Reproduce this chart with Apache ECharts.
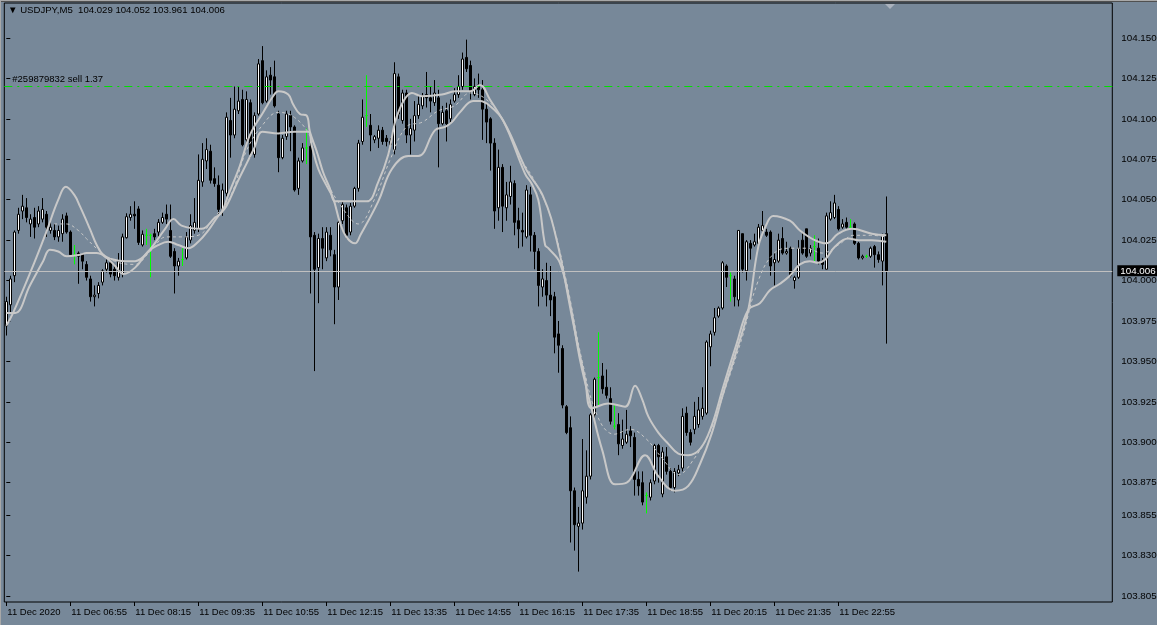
<!DOCTYPE html>
<html><head><meta charset="utf-8">
<script src="https://cdn.jsdelivr.net/npm/echarts@6/dist/echarts.min.js"></script>
<style>html,body{margin:0;padding:0;background:#778899;}#c{width:1157px;height:625px;}</style>
</head><body><div id="c"></div>
<script>
// ---- DATA ----
const symbolTitle = '\u25BC USDJPY,M5  104.029 104.052 103.961 104.006';
const orderText = '#259879832 sell 1.37';
const orderPrice = 104.120;
const bidPrice = 104.006;
const yTickValues = [104.150,104.125,104.100,104.075,104.050,104.025,104.000,103.975,103.950,103.925,103.900,103.875,103.855,103.830,103.805];
const timeTickLabels = ['11 Dec 2020','11 Dec 06:55','11 Dec 08:15','11 Dec 09:35','11 Dec 10:55','11 Dec 12:15','11 Dec 13:35','11 Dec 14:55','11 Dec 16:15','11 Dec 17:35','11 Dec 18:55','11 Dec 20:15','11 Dec 21:35','11 Dec 22:55'];
const barsPerTick = 16;
const totalSlots = 277;

const open = [103.972,103.985,104.003,104.031,104.043,104.045,104.035,104.039,104.035,104.038,104.041,104.031,104.031,104.027,104.029,104.040,104.030,104.016,104.017,104.016,
104.010,104.001,103.990,103.992,103.999,104.007,104.011,104.007,104.002,104.004,104.0265,104.039,104.041,104.0443,104.022,104.028,104.028,104.029,104.030,104.036,
104.041,104.031,104.018,104.009,104.013,104.014,104.025,104.031,104.032,104.061,104.074,104.080,104.063,104.059,104.044,104.054,104.099,104.090,104.105,104.112,
104.087,104.110,104.078,104.103,104.136,104.111,104.127,104.126,104.103,104.076,104.089,104.102,104.095,104.057,104.074,104.082,104.083,104.028,104.008,104.026,
104.014,104.028,104.016,103.996,104.037,104.045,104.030,104.046,104.057,104.086,104.102,104.096,104.087,104.088,104.093,104.088,104.086,104.081,104.126,104.099,
104.116,104.090,104.093,104.102,104.108,104.115,104.113,104.110,104.113,104.097,104.105,104.100,104.111,104.115,104.120,104.138,104.133,104.115,104.121,104.118,
104.106,104.100,104.085,104.045,104.070,104.045,104.052,104.060,104.037,104.031,104.027,104.053,104.028,104.018,103.996,104.000,103.991,103.990,103.967,103.958,
103.922,103.909,103.870,103.848,103.850,103.866,103.879,103.917,103.940,103.941,103.934,103.927,103.910,103.911,103.898,103.900,103.907,103.903,103.877,103.875,
103.867,103.866,103.876,103.898,103.868,103.891,103.882,103.872,103.881,103.884,103.918,103.906,103.908,103.911,103.916,103.918,103.959,103.968,103.978,103.983,
104.009,104.003,104.001,103.988,104.029,104.006,104.023,104.022,104.023,104.031,104.030,104.030,104.011,104.012,104.026,104.017,104.020,104.000,104.002,104.025,
104.032,104.017,104.021,104.020,104.012,104.007,104.038,104.039,104.044,104.033,104.036,104.033,104.035,104.023,104.014,104.015,104.015,104.021,104.016,104.012,
104.029];
const close = [103.987,104.001,104.030,104.041,104.046,104.039,104.038,104.033,104.043,104.044,104.033,104.033,104.027,104.031,104.038,104.030,104.016,104.016,104.015,104.012,
104.002,103.990,103.991,103.997,104.006,104.011,104.004,104.003,104.012,104.027,104.0395,104.041,104.040,104.0236,104.0286,104.028,104.028,104.027,104.036,104.039,
104.038,104.015,104.009,104.012,104.013,104.027,104.034,104.036,104.062,104.075,104.081,104.062,104.060,104.044,104.056,104.101,104.090,104.106,104.111,104.084,
104.112,104.078,104.102,104.134,104.110,104.126,104.124,104.108,104.076,104.088,104.103,104.095,104.056,104.074,104.082,104.082,104.027,104.007,104.026,104.020,
104.030,104.019,103.996,104.036,104.047,104.028,104.046,104.057,104.085,104.101,104.102,104.090,104.089,104.093,104.086,104.086,104.084,104.128,104.103,104.116,
104.090,104.094,104.102,104.109,104.114,104.113,104.111,104.116,104.097,104.104,104.097,104.109,104.115,104.120,104.137,104.131,104.117,104.120,104.118,104.106,
104.098,104.085,104.043,104.070,104.046,104.053,104.061,104.036,104.032,104.030,104.056,104.028,104.018,103.997,104.001,103.991,103.988,103.965,103.960,103.923,
103.906,103.870,103.849,103.850,103.870,103.879,103.917,103.939,103.940,103.933,103.929,103.913,103.910,103.899,103.902,103.905,103.904,103.877,103.873,103.863,
103.867,103.875,103.898,103.891,103.894,103.882,103.872,103.882,103.883,103.916,103.906,103.900,103.916,103.920,103.921,103.962,103.967,103.977,103.983,104.011,
104.002,104.003,103.990,104.031,104.007,104.024,104.020,104.024,104.033,104.034,104.028,104.009,104.013,104.025,104.017,104.018,104.003,104.002,104.020,104.017,
104.015,104.020,104.021,104.012,104.010,104.040,104.042,104.048,104.032,104.035,104.033,104.033,104.023,104.014,104.015,104.015,104.020,104.016,104.013,104.028,
104.006];
const low = [103.966,103.980,103.999,104.029,104.038,104.036,104.027,104.026,104.033,104.036,104.027,104.029,104.025,104.024,104.024,104.029,104.015,104.010,103.998,104.007,
104.000,103.987,103.984,103.989,103.997,104.005,104.002,104.000,104.000,104.002,104.026,104.037,104.032,104.022,104.021,104.022,104.002,104.025,104.027,104.035,
104.035,104.014,103.992,104.003,104.009,104.013,104.023,104.029,104.030,104.058,104.069,104.060,104.058,104.041,104.040,104.052,104.076,104.088,104.103,104.083,
104.085,104.076,104.076,104.102,104.109,104.110,104.115,104.107,104.067,104.075,104.087,104.080,104.055,104.053,104.073,104.072,103.992,103.944,103.986,104.007,
104.012,104.015,103.973,103.988,104.035,104.026,104.028,104.045,104.055,104.084,104.095,104.080,104.085,104.082,104.084,104.083,104.082,104.078,104.100,104.097,
104.085,104.078,104.086,104.100,104.106,104.107,104.104,104.108,104.070,104.096,104.086,104.098,104.110,104.113,104.118,104.129,104.112,104.114,104.113,104.087,
104.085,104.068,104.032,104.037,104.030,104.037,104.047,104.028,104.020,104.021,104.026,104.018,104.007,103.984,103.990,103.984,103.978,103.955,103.943,103.921,
103.905,103.838,103.833,103.820,103.846,103.862,103.877,103.915,103.923,103.930,103.927,103.911,103.908,103.892,103.896,103.899,103.897,103.867,103.867,103.861,
103.856,103.864,103.874,103.875,103.866,103.880,103.870,103.869,103.879,103.882,103.904,103.898,103.905,103.909,103.914,103.917,103.947,103.966,103.977,103.982,
103.996,103.987,103.984,103.984,104.005,104.000,104.013,104.021,104.022,104.030,104.027,104.003,103.997,104.011,104.016,104.016,104.002,103.995,104.001,104.016,
104.014,104.015,104.011,104.010,104.007,104.007,104.037,104.038,104.031,104.032,104.032,104.033,104.022,104.013,104.013,104.014,104.014,104.008,104.011,103.997,
103.961];
const high = [103.990,104.003,104.031,104.045,104.053,104.051,104.041,104.045,104.046,104.051,104.043,104.036,104.035,104.034,104.041,104.042,104.031,104.022,104.018,104.017,
104.012,104.003,103.997,103.999,104.007,104.013,104.014,104.010,104.017,104.029,104.0416,104.046,104.049,104.046,104.031,104.032,104.029,104.032,104.038,104.042,
104.047,104.047,104.020,104.014,104.020,104.030,104.041,104.051,104.078,104.085,104.088,104.084,104.070,104.065,104.060,104.104,104.113,104.120,104.120,104.118,
104.117,104.112,104.104,104.137,104.145,104.130,104.132,104.136,104.105,104.090,104.105,104.105,104.096,104.076,104.085,104.094,104.085,104.030,104.029,104.033,
104.033,104.033,104.019,104.037,104.049,104.047,104.048,104.058,104.087,104.112,104.127,104.103,104.090,104.096,104.095,104.090,104.088,104.135,104.128,104.118,
104.118,104.100,104.111,104.114,104.116,104.129,104.120,104.124,104.118,104.108,104.110,104.112,104.119,104.127,104.141,104.149,104.136,104.125,104.128,104.124,
104.110,104.101,104.088,104.081,104.072,104.061,104.071,104.062,104.045,104.042,104.059,104.058,104.030,104.020,104.007,104.011,104.009,103.993,103.975,103.960,
103.923,103.916,103.872,103.860,103.902,103.895,103.918,103.940,103.968,103.949,103.945,103.934,103.923,103.918,103.914,103.920,103.910,103.906,103.882,103.882,
103.869,103.877,103.899,103.899,103.897,103.897,103.884,103.884,103.886,103.921,103.922,103.908,103.925,103.928,103.934,103.963,103.969,103.983,103.984,104.012,
104.010,104.005,104.003,104.031,104.029,104.025,104.025,104.029,104.035,104.043,104.032,104.031,104.017,104.029,104.033,104.024,104.021,104.003,104.025,104.030,
104.032,104.022,104.028,104.026,104.014,104.042,104.049,104.053,104.046,104.038,104.039,104.038,104.036,104.024,104.016,104.016,104.021,104.022,104.018,104.029,
104.052];

// indicator lines: [bar, price]
const maLineA = [[0,103.972],[1.7,103.980],[6,104.005],[10,104.030],[13,104.050],[14.9,104.058],[17,104.053],[18.4,104.046],[20.9,104.032],[22.6,104.022],[24.2,104.016],[26.7,104.013],[29.7,104.012],
[32.2,104.012],[35.5,104.018],[39.7,104.032],[41.8,104.038],[43.8,104.034],[48.8,104.032],[52.2,104.039],[53.8,104.042],[55.5,104.053],[58.4,104.071],[60.9,104.090],[64.2,104.104],[66.7,104.114],[68,104.117],[70.5,104.115],[71.7,104.109],[73.4,104.103],[75.1,104.102],[75.9,104.092],[77.6,104.080],[79.2,104.067],[80.9,104.057],[82.2,104.049],[84.7,104.049],[90.1,104.049],[93,104.061],[95.5,104.078],[97.2,104.098],[99.3,104.111],[101.4,104.116],[103.9,104.114],[108.9,104.115],[112.2,104.117],[116,104.117],[118.4,104.121],[120.9,104.112],[125.1,104.095],[128.4,104.077],[130.1,104.068],[134.2,104.052],[137.6,104.025],[141.7,103.974],[144.7,103.939],[146.4,103.921],[150.5,103.924],[154.7,103.922],[157.2,103.935],[158.9,103.927],[160.5,103.916],[163,103.906],[165.5,103.899],[168,103.893],[170.5,103.892],[173.5,103.896],[176.3,103.910],[179.2,103.934],[182.6,103.961],[185.5,103.982],[188.4,103.986],[190.9,103.994],[193.4,103.998],[195.9,104.003],[198.4,104.010],[200.9,104.012],[203,104.011],[204.7,104.013],[207.2,104.021],[210.5,104.026],[213,104.025],[216.4,104.025],[220,104.024]];
const maLineB = [[0,103.980],[2.2,103.980],[5.9,103.997],[9.2,104.012],[10.9,104.019],[13,104.018],[15.1,104.015],[18.4,104.016],[20.1,104.017],[22.6,104.017],[25.1,104.014],[27.2,104.009],[29.3,104.004],[32.2,104.008],[35.5,104.018],[38,104.022],[40.5,104.024],[43,104.022],[45.5,104.020],[48,104.024],[50.5,104.031],[53,104.040],[55,104.046],[58,104.062],[60,104.072],[62,104.082],[64,104.092],[68,104.091],[72,104.092],[75.5,104.092],[76.3,104.084],[78,104.069],[80,104.059],[81.7,104.051],[83.4,104.036],[85,104.027],[87.2,104.023],[88.5,104.028],[93,104.049],[96.4,104.069],[100.5,104.077],[103,104.077],[107.2,104.093],[109.7,104.095],[111.4,104.098],[113.4,104.104],[116.7,104.111],[118.4,104.111],[120.9,104.108],[124.2,104.099],[129.7,104.066],[131.3,104.060],[133,104.050],[134.7,104.022],[135.5,104.020],[138.4,104.011],[141,103.985],[143.5,103.950],[146.4,103.920],[149,103.895],[152.2,103.874],[155.1,103.875],[159.7,103.892],[163,103.879],[167.2,103.870],[170.5,103.873],[173.5,103.887],[176.3,103.905],[179.2,103.930],[182.6,103.957],[185.5,103.982],[188,104.021],[190.1,104.035],[191.7,104.040],[195.9,104.037],[198.4,104.031],[202.1,104.025],[205,104.023],[208,104.029],[211.4,104.032],[216.4,104.029],[220,104.028]];
const maLineDash = [[12,104.035],[15,104.035],[18,104.031],[20,104.026],[23,104.019],[27,104.012],[32,104.010],[36,104.018],[40,104.027],[44,104.027],[48,104.028],[52,104.039],[56,104.052],[60,104.080],[64,104.096],[68,104.104],[72,104.101],[76,104.089],[80,104.062],[84,104.045],[88,104.035],[92,104.050],[96,104.075],[100,104.095],[104,104.098],[108,104.105],[112,104.108],[116,104.116],[120,104.112],[124,104.100],[128,104.078],[132,104.062],[136,104.040],[140,104.000],[144,103.950],[148,103.915],[152,103.905],[156,103.908],[160,103.902],[164,103.890],[168,103.880],[172,103.890],[176,103.907],[180,103.935],[184,103.965],[188,104.000],[192,104.017],[196,104.020],[200,104.020],[204,104.017],[208,104.022],[212,104.028],[216,104.028],[220,104.027]];

// ---- BUILD ----
const candles = open.map((o,i)=>[o, close[i], low[i], high[i]]);
const cats = [];
for (let i=0;i<totalSlots;i++){
  const k = i / barsPerTick;
  cats.push(Number.isInteger(k) && k < timeTickLabels.length ? timeTickLabels[k] : '');
}
const yMin = 103.80121, yMax = 104.17165;
const FONT = 'Liberation Sans, Arial, sans-serif';
const lineCol = '#c8c8c8';
const showTick = (i)=> i%barsPerTick===0 && i/barsPerTick < timeTickLabels.length;

const chart = echarts.init(document.getElementById('c'), null, {renderer:'canvas'});
chart.setOption({
  animation:false,
  backgroundColor:'#778899',
  grid:{left:4.3, top:3, width:totalSlots*4, height:599, show:true, borderColor:'#000', borderWidth:1, backgroundColor:'#778899', containLabel:false, outerBoundsMode:'none'},
  xAxis:[{
    type:'category', data:cats, boundaryGap:true, gridIndex:0,
    axisLine:{show:false},
    axisTick:{show:true, alignWithLabel:true, length:4, interval:showTick, lineStyle:{color:'#000'}},
    axisLabel:{show:true, interval:showTick, align:'left', margin:5, color:'#000', fontSize:9.5, fontFamily:FONT, padding:[0,0,0,1]},
    splitLine:{show:false}
  },{
    type:'value', min:-0.5, max:totalSlots-0.5, show:false, gridIndex:0
  }],
  yAxis:{
    type:'value', position:'right', min:yMin, max:yMax, scale:true,
    axisLine:{show:false},
    splitLine:{show:false},
    axisTick:{show:true, length:4, customValues:yTickValues, lineStyle:{color:'#000'}},
    axisLabel:{show:true, customValues:yTickValues, formatter:(v)=>v.toFixed(3), margin:9, color:'#000', fontSize:9.8, fontFamily:FONT}
  },
  graphic:[
    {type:'rect', shape:{x:0,y:0,width:1157,height:1}, style:{fill:'#a8a8a8'}, silent:true},
    {type:'rect', shape:{x:0,y:1,width:1157,height:1}, style:{fill:'#505050'}, silent:true},
    {type:'rect', shape:{x:0,y:0,width:1,height:625}, style:{fill:'#a8a8a8'}, silent:true},
    {type:'text', left:8, top:5, style:{text:symbolTitle, fill:'#000', font:'9.6px '+FONT}, z:100},
    {type:'polygon', shape:{points:[[885,4],[895,4],[890,9]]}, style:{fill:'#aab2bd'}, z:100}
  ],
  series:[
    {
      type:'candlestick', xAxisIndex:0, yAxisIndex:0, data:candles, barWidth:3,
      itemStyle:{color:'#ffffff', color0:'#000000', borderColor:'#000000', borderColor0:'#000000', borderColorDoji:'#00ff00', borderWidth:1},
      markLine:{
        silent:true, symbol:['none','none'], animation:false, precision:3,
        data:[
          {yAxis:bidPrice, lineStyle:{color:'#c0c0c0', width:1, type:'solid'},
           label:{show:true, position:'end', formatter:bidPrice.toFixed(3), backgroundColor:'#000', color:'#fff', padding:[1,3,0,3], fontSize:9.8, fontFamily:FONT, distance:5}},
          {yAxis:orderPrice, lineStyle:{color:'#00e000', width:1, type:[8,5,2,5]},
           label:{show:true, position:'insideStartTop', formatter:orderText, color:'#000', fontSize:9.5, fontFamily:FONT, distance:[8,2]}}
        ]
      },
      z:3
    },
    {type:'line', xAxisIndex:1, yAxisIndex:0, data:maLineA, smooth:0.4, showSymbol:false, lineStyle:{color:lineCol, width:2}, z:4},
    {type:'line', xAxisIndex:1, yAxisIndex:0, data:maLineB, smooth:0.4, showSymbol:false, lineStyle:{color:lineCol, width:2}, z:4},
    {type:'line', xAxisIndex:1, yAxisIndex:0, data:maLineDash, smooth:0.4, showSymbol:false, lineStyle:{color:lineCol, width:1, type:[3,3]}, z:4}
  ]
});
</script></body></html>
